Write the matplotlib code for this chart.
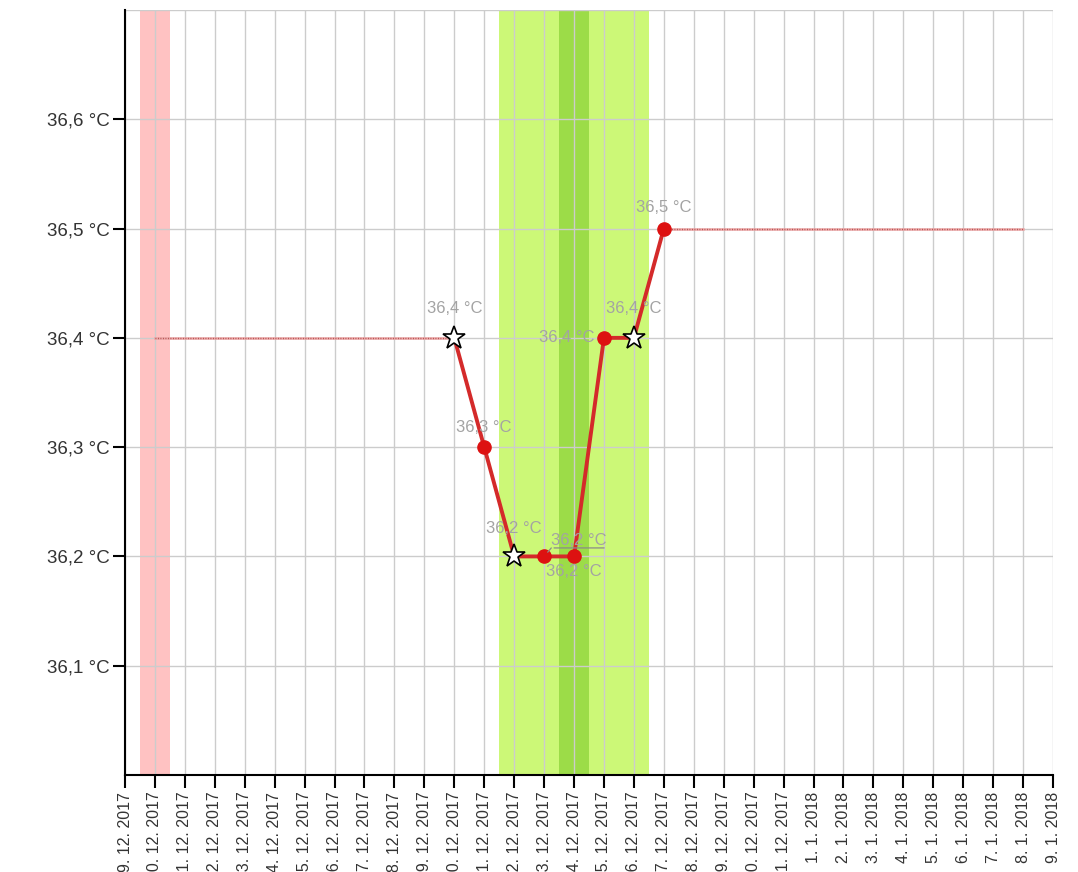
import pandas as pd
import matplotlib
matplotlib.use("Agg")
import matplotlib.pyplot as plt
import matplotlib.dates as mdates
from matplotlib.ticker import FuncFormatter

plt.rcParams['font.family'] = ['Liberation Sans', 'DejaVu Sans']

# measured temperatures (°C), stars mark special days
measure_dates = ["2017-12-20", "2017-12-21", "2017-12-22", "2017-12-23",
                 "2017-12-24", "2017-12-25", "2017-12-26", "2017-12-27"]
temps = [36.4, 36.3, 36.2, 36.2, 36.2, 36.4, 36.4, 36.5]
is_star = [True, False, True, False, False, False, True, False]

# carried-over values (thin flat lines)
carry_before = (["2017-12-10", "2017-12-20"], [36.4, 36.4])
carry_after = (["2017-12-27", "2018-01-08"], [36.5, 36.5])

# shaded periods
pink_days = ["2017-12-10"]
light_green_days = ["2017-12-22", "2017-12-26"]
dark_green_days = ["2017-12-24"]

x_start, x_end = "2017-12-09", "2018-01-09"
y_ticks = [36.1, 36.2, 36.3, 36.4, 36.5, 36.6]

# label offsets in pixels (dx, dy) for each point
label_offsets = [(0, 29), (0, 20), (0, 28), (35, 16), (0, -15), (-37, 0), (0, 29), (0, 21)]

d = pd.to_datetime(measure_dates)
half = pd.Timedelta(hours=12)

fig = plt.figure(figsize=(10.78, 8.72), dpi=100)
ax = fig.add_axes([125 / 1078, 1 - 775 / 872, (1053 - 125) / 1078, (775 - 10) / 872])

# shading
for s in pink_days:
    t = pd.Timestamp(s)
    ax.axvspan(t - half, t + half, color='#ffc2c2', lw=0, zorder=0.2)
lg = pd.to_datetime(light_green_days)
ax.axvspan(lg[0] - half, lg[1] + half, color='#ccf877', lw=0, zorder=0.2)
for s in dark_green_days:
    t = pd.Timestamp(s)
    ax.axvspan(t - half, t + half, color='#9cdc48', lw=0, zorder=0.3)

# flat carried lines
for xs, ys in (carry_before, carry_after):
    xs = pd.to_datetime(xs)
    ax.plot(xs, ys, color='#eba5a5', lw=1.8, zorder=2)
    ax.plot(xs, ys, color='#b04848', lw=1.0, ls=(0, (0.6, 1.2)), zorder=2.1)

# main line
ax.plot(d, temps, color='#d42a2a', lw=2.8, zorder=3, solid_joinstyle='round')
for xi, yi, st in zip(d, temps, is_star):
    if st:
        ax.plot(xi, yi, marker='*', ms=17, mfc='white', mec='black', mew=1.2, zorder=5)
    else:
        ax.plot(xi, yi, marker='o', ms=9.5, mfc='#dd1111', mec='#dd1111', zorder=4)

# data labels
for i, (xi, yi) in enumerate(zip(d, temps)):
    dx, dy = label_offsets[i]
    lbl = f"{yi:.1f}".replace('.', ',') + " °C"
    txt = ax.annotate(lbl, (xi, yi), xytext=(dx, dy), textcoords='offset pixels',
                      ha='center', va='center', fontsize=12, color='#a3a3a3', zorder=6)
    if i == 3:
        ax.annotate('', xy=(1, 0), xycoords=txt, xytext=(0, 0), textcoords=txt,
                    arrowprops=dict(arrowstyle='-', color='#8a8a8a', lw=0.9), zorder=6)
        ax.annotate('', xy=(xi, yi), xytext=(0, 0), textcoords=txt,
                    arrowprops=dict(arrowstyle='-', color='#8a8a8a', lw=0.9,
                                    shrinkA=0, shrinkB=4), zorder=6)

# axes
ax.set_xlim(pd.Timestamp(x_start), pd.Timestamp(x_end))
ax.set_ylim(36.0, 36.7)
ax.xaxis.set_major_locator(mdates.DayLocator())
ax.xaxis.set_major_formatter(FuncFormatter(
    lambda v, p: (lambda t: f"{t.day}. {t.month}. {t.year}")(mdates.num2date(v))))
ax.set_yticks(y_ticks)
ax.yaxis.set_major_formatter(FuncFormatter(lambda v, p: f"{v:.1f}".replace('.', ',') + " °C"))
plt.setp(ax.get_xticklabels(), rotation=90)
ax.tick_params(axis='x', length=9, width=1.5, pad=3, labelsize=11.5, labelcolor='#333333')
ax.tick_params(axis='y', length=9, width=1.5, pad=2, labelsize=13.5, labelcolor='#333333')

ax.grid(True, color='#cccccc', lw=1.0)
ax.set_axisbelow(True)
ax.axhline(36.7, color='#cccccc', lw=1.0, zorder=0.5)
for side in ('top', 'right'):
    ax.spines[side].set_visible(False)
for side in ('left', 'bottom'):
    ax.spines[side].set_linewidth(1.5)

fig.savefig('out.png', dpi=100)
